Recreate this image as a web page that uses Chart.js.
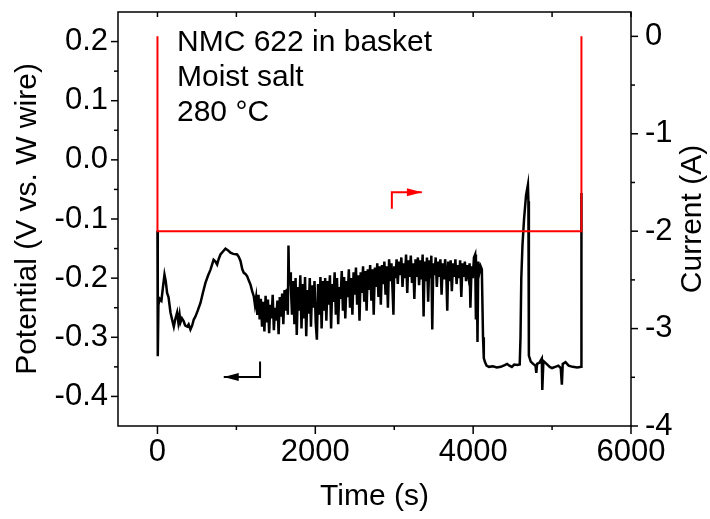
<!DOCTYPE html>
<html>
<head>
<meta charset="utf-8">
<script src="https://cdn.jsdelivr.net/npm/chart.js@4.4.1/dist/chart.umd.min.js"></script>
<style>
  html, body { margin: 0; padding: 0; background: #fff; }
</style>
</head>
<body>
<canvas id="chart" width="710" height="519"></canvas>
<script>
// potential trace (black), time in s / potential in V
const timeS = [
  0, 4, 12, 30, 50, 70, 89, 105, 122, 140, 165, 185, 207, 225, 249, 265, 280, 291, 310, 333,
  350, 376, 395, 418, 440, 460, 481, 510, 545, 575, 608, 640, 671, 690, 711, 735, 756, 775, 798, 830,
  862, 895, 925, 960, 1010, 1030, 1052, 1075, 1094, 1115, 1137, 1160, 1179, 1200, 1221,
  1235, 1250, 1265, 1280, 1295, 1310, 1325, 1340, 1355, 1370, 1385, 1400, 1415, 1430, 1445, 1460,
  1475, 1490, 1505, 1520, 1535, 1550, 1565, 1580, 1595, 1610, 1625, 1640, 1652, 1660, 1668, 1680, 1690,
  1705, 1720, 1735, 1750, 1765, 1780, 1795, 1810, 1825, 1840, 1855, 1870, 1885, 1900, 1915, 1930,
  1945, 1960, 1975, 1990, 2005, 2020, 2035, 2050, 2065, 2080, 2095,
  2110, 2125, 2140, 2155, 2170, 2185, 2200, 2215, 2230, 2245, 2260, 2275, 2290, 2305, 2320, 2335,
  2350, 2365, 2380, 2395, 2410, 2425, 2440, 2455, 2470, 2485, 2500, 2515, 2530, 2545, 2560, 2575,
  2590, 2605, 2620, 2635, 2650, 2665, 2680, 2695, 2710, 2725, 2740, 2755, 2770, 2785, 2800, 2815,
  2830, 2845, 2860, 2875, 2890, 2905, 2920, 2935, 2950, 2965, 2980, 2990, 3000,
  3015, 3030, 3045, 3060, 3075, 3090, 3105, 3120, 3135, 3150, 3165, 3180, 3195, 3210, 3225, 3240,
  3255, 3270, 3285, 3300, 3315, 3330, 3345, 3360, 3372, 3385, 3400, 3415, 3430, 3445, 3460, 3470,
  3482, 3495, 3510, 3525, 3540, 3555, 3570, 3585, 3600, 3615, 3630, 3645, 3660, 3672, 3685, 3700,
  3715, 3730, 3745, 3760, 3775, 3790, 3805, 3820, 3835, 3850, 3865, 3880, 3895, 3910, 3925, 3940,
  3955, 3965, 3980, 3995, 4010, 4025, 4035, 4045, 4055, 4065, 4080, 4095, 4110,
  4125, 4135, 4150, 4170, 4200, 4250, 4300, 4350, 4400, 4430, 4460, 4490, 4520, 4560, 4590,
  4600, 4610, 4625, 4645, 4670, 4694, 4700, 4706, 4730, 4760, 4790, 4800, 4810, 4840, 4870, 4876,
  4890, 4930, 4970, 5000, 5040, 5080, 5110, 5124, 5135, 5170, 5210, 5260, 5320, 5370, 5372
];
const potentialV = [
  -0.12, -0.332, -0.245, -0.235, -0.238, -0.215, -0.194, -0.205, -0.225, -0.232, -0.258, -0.27, -0.282, -0.27, -0.258, -0.275, -0.262, -0.275, -0.268, -0.273,
  -0.28, -0.282, -0.278, -0.287, -0.28, -0.27, -0.265, -0.255, -0.242, -0.225, -0.208, -0.196, -0.186, -0.178, -0.169, -0.172, -0.177, -0.168, -0.16, -0.155,
  -0.15, -0.153, -0.157, -0.159, -0.16, -0.164, -0.171, -0.185, -0.191, -0.193, -0.197, -0.205, -0.211, -0.222, -0.231,
  -0.245, -0.232, -0.262, -0.228, -0.27, -0.235, -0.282, -0.24, -0.29, -0.23, -0.275, -0.236, -0.293, -0.245, -0.268, -0.228,
  -0.288, -0.25, -0.272, -0.238, -0.295, -0.232, -0.265, -0.226, -0.278, -0.22, -0.255, -0.218, -0.262, -0.145, -0.21, -0.19, -0.215,
  -0.262, -0.205, -0.278, -0.2, -0.296, -0.215, -0.255, -0.195, -0.285, -0.21, -0.268, -0.198, -0.298, -0.22, -0.26, -0.2,
  -0.282, -0.212, -0.25, -0.205, -0.275, -0.304, -0.21, -0.262, -0.198, -0.285, -0.205,
  -0.255, -0.2, -0.272, -0.205, -0.245, -0.195, -0.285, -0.21, -0.24, -0.19, -0.262, -0.2, -0.278, -0.215, -0.235, -0.188,
  -0.255, -0.198, -0.268, -0.205, -0.232, -0.185, -0.25, -0.2, -0.262, -0.19, -0.228, -0.182, -0.245, -0.195, -0.272, -0.19,
  -0.225, -0.18, -0.24, -0.188, -0.255, -0.185, -0.22, -0.178, -0.238, -0.185, -0.262, -0.182, -0.215, -0.175, -0.232, -0.18,
  -0.245, -0.178, -0.21, -0.172, -0.228, -0.18, -0.25, -0.168, -0.205, -0.175, -0.225, -0.262, -0.18,
  -0.2, -0.168, -0.21, -0.172, -0.195, -0.165, -0.215, -0.175, -0.2, -0.16, -0.225, -0.17, -0.198, -0.162, -0.208, -0.175,
  -0.235, -0.168, -0.198, -0.165, -0.212, -0.17, -0.202, -0.16, -0.265, -0.172, -0.205, -0.165, -0.24, -0.17, -0.2, -0.162,
  -0.287, -0.175, -0.195, -0.165, -0.215, -0.172, -0.198, -0.168, -0.228, -0.175, -0.202, -0.168, -0.195, -0.255, -0.172, -0.205,
  -0.17, -0.222, -0.175, -0.198, -0.168, -0.21, -0.178, -0.2, -0.17, -0.232, -0.175, -0.198, -0.172, -0.205, -0.178, -0.195,
  -0.175, -0.25, -0.18, -0.2, -0.165, -0.16, -0.27, -0.175, -0.308, -0.172, -0.19, -0.18, -0.185,
  -0.3, -0.335, -0.342, -0.348, -0.35, -0.349, -0.351, -0.35, -0.347, -0.345, -0.348, -0.35, -0.346, -0.347, -0.346,
  -0.3, -0.2, -0.144, -0.1, -0.06, -0.042, -0.07, -0.331, -0.341, -0.345, -0.348, -0.36, -0.345, -0.343, -0.336, -0.389,
  -0.34, -0.345, -0.35, -0.352, -0.35, -0.348, -0.352, -0.38, -0.345, -0.342, -0.348, -0.35, -0.351, -0.35, -0.056
];

// applied current (red)
const currentTime = [0, 0, 5372, 5372];
const currentA = [0, -2, -2, 0];

// axis ticks
const xMajor = [0, 2000, 4000, 6000];
const xMinor = [1000, 3000, 5000];
const leftMajor = [0.2, 0.1, 0.0, -0.1, -0.2, -0.3, -0.4];
const leftMinor = [0.15, 0.05, -0.05, -0.15, -0.25, -0.35];
const rightMajor = [0, -1, -2, -3, -4];
const rightMinor = [-0.5, -1.5, -2.5, -3.5];

// annotation text
const notes = ['NMC 622 in basket', 'Moist salt', '280 °C'];

// direction arrows (corner, then arrow tip)
const blackArrowT = [1300, 1300, 840];
const blackArrowV = [-0.341, -0.367, -0.367];
const redArrowT = [2970, 2970, 3350];
const redArrowA = [-1.77, -1.6, -1.6];

const FONT = 'Liberation Sans, Arial, sans-serif';
const TICK_FS = 31;
const TEXT_FS = 30;

const pts = (xs, ys) => xs.map((x, i) => ({ x: x, y: ys[i] }));

function fixTicks(vals) {
  return function (scale) { scale.ticks = vals.map(v => ({ value: v })); };
}

const framePlugin = {
  id: 'frame',
  afterDatasetsDraw(chart) {
    const { ctx, chartArea: a, scales } = chart;
    const x = scales.x, yl = scales.y, yr = scales.y1;
    ctx.save();
    ctx.strokeStyle = '#000';
    ctx.lineWidth = 1.5;
    ctx.strokeRect(a.left, a.top, a.right - a.left, a.bottom - a.top);

    const line = (x1, y1, x2, y2) => {
      ctx.beginPath(); ctx.moveTo(x1, y1); ctx.lineTo(x2, y2); ctx.stroke();
    };
    xMajor.forEach(v => { const p = x.getPixelForValue(v); line(p, a.bottom, p, a.bottom + 8); line(p, a.top, p, a.top + 5); });
    xMinor.forEach(v => { const p = x.getPixelForValue(v); line(p, a.bottom, p, a.bottom + 4); line(p, a.top, p, a.top + 5); });
    leftMajor.forEach(v => { const p = yl.getPixelForValue(v); line(a.left - 7, p, a.left, p); });
    leftMinor.forEach(v => { const p = yl.getPixelForValue(v); line(a.left - 4, p, a.left, p); });
    rightMajor.forEach(v => { const p = yr.getPixelForValue(v); line(a.right, p, a.right + 7, p); });
    rightMinor.forEach(v => { const p = yr.getPixelForValue(v); line(a.right, p, a.right + 4, p); });

    // arrow heads
    const head = (tx, ty, dir, color) => {
      ctx.fillStyle = color;
      ctx.beginPath();
      ctx.moveTo(tx, ty);
      ctx.lineTo(tx - dir * 15, ty - 4);
      ctx.lineTo(tx - dir * 15, ty + 4);
      ctx.closePath();
      ctx.fill();
    };
    head(x.getPixelForValue(blackArrowT[2]), yl.getPixelForValue(blackArrowV[2]), -1, '#000');
    head(x.getPixelForValue(redArrowT[2]), yr.getPixelForValue(redArrowA[2]), 1, '#ff0000');

    // text
    ctx.fillStyle = '#000';
    ctx.font = TEXT_FS + 'px ' + FONT;
    ctx.textBaseline = 'middle';
    ctx.textAlign = 'left';
    notes.forEach((t, i) => ctx.fillText(t, a.left + 59, a.top + 31 + i * 35));

    ctx.textAlign = 'center';
    ctx.fillText('Time (s)', (a.left + a.right) / 2, 497);
    const cy = (a.top + a.bottom) / 2;
    [[28, 'Potential (V vs. W wire)'], [693, 'Current (A)']].forEach(([tx, t]) => {
      ctx.save();
      ctx.translate(tx, cy);
      ctx.rotate(-Math.PI / 2);
      ctx.fillText(t, 0, 0);
      ctx.restore();
    });
    ctx.restore();
  }
};

const tickFont = { family: FONT, size: TICK_FS };

new Chart(document.getElementById('chart').getContext('2d'), {
  type: 'line',
  data: {
    datasets: [
      { data: pts(currentTime, currentA), yAxisID: 'y1', borderColor: '#ff0000', borderWidth: 2, pointRadius: 0 },
      { data: pts(redArrowT, redArrowA), yAxisID: 'y1', borderColor: '#ff0000', borderWidth: 2, pointRadius: 0 },
      { data: pts(blackArrowT, blackArrowV), yAxisID: 'y', borderColor: '#000', borderWidth: 2, pointRadius: 0 },
      { data: pts(timeS, potentialV), yAxisID: 'y', borderColor: '#000', borderWidth: 2.5, pointRadius: 0 },
    ]
  },
  options: {
    responsive: false,
    animation: false,
    devicePixelRatio: 1,
    layout: { padding: { top: 12, left: 0, right: 0, bottom: 0 } },
    plugins: {
      legend: { display: false },
      tooltip: { enabled: false },
    },
    scales: {
      x: {
        type: 'linear',
        min: -500,
        max: 6000,
        grid: { display: false, drawTicks: false, tickLength: 0 },
        border: { display: false },
        afterBuildTicks: fixTicks(xMajor),
        afterFit(s) { s.height = 93; s.paddingLeft = 0; s.paddingRight = 0; },
        ticks: { color: '#000', font: tickFont, padding: 8, maxRotation: 0, callback: v => String(v) },
      },
      y: {
        position: 'left',
        min: -0.45,
        max: 0.25,
        grid: { display: false, drawTicks: false, tickLength: 0 },
        border: { display: false },
        afterBuildTicks: fixTicks(leftMajor),
        afterFit(s) { s.width = 118; s.paddingTop = 0; s.paddingBottom = 0; },
        ticks: { color: '#000', font: tickFont, padding: 10, callback: v => v.toFixed(1) },
      },
      y1: {
        position: 'right',
        min: -4,
        max: 0.25,
        grid: { display: false, drawTicks: false, tickLength: 0 },
        border: { display: false },
        afterBuildTicks: fixTicks(rightMajor),
        afterFit(s) { s.width = 79; s.paddingTop = 0; s.paddingBottom = 0; },
        ticks: { color: '#000', font: tickFont, padding: 14, callback: v => String(v) },
      },
    }
  },
  plugins: [framePlugin]
});
</script>
</body>
</html>
